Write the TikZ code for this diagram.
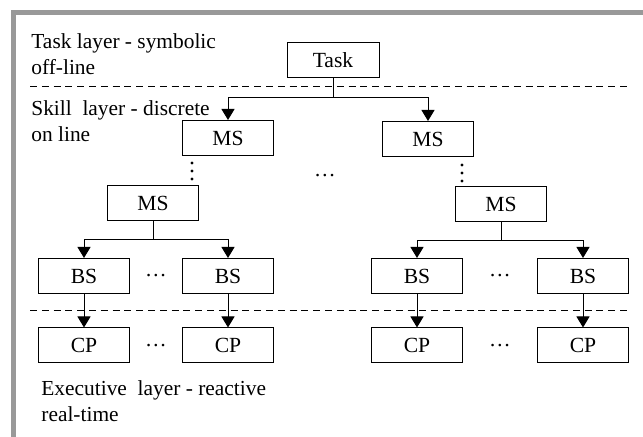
\documentclass[tikz,border=0pt]{standalone}
\usepackage{fontspec}
\setmainfont{Liberation Serif}
\usepackage{tikz}
\usetikzlibrary{arrows.meta,positioning}
\tikzset{
  skill/.style={
    draw,
    rectangle,
    minimum width=45.5pt,
    minimum height=17.5pt,
    inner sep=0pt,
    line width=0.5pt,
    font=\fontsize{10.8}{13}\selectfont,
  },
  link/.style={line width=0.5pt},
  arr/.style={line width=0.5pt, -{Triangle[length=5.5pt,width=6.5pt]}},
  layer/.style={dashed, line width=0.5pt, dash pattern=on 3.5pt off 2.4pt},
  lbl/.style={align=left, anchor=north west, inner sep=0pt,
    font=\fontsize{10.7}{13}\selectfont},
  gap/.style={inner sep=0pt, font=\fontsize{10.8}{13}\selectfont},
  dot/.style={fill, circle, inner sep=0pt, minimum size=1.6pt},
}

\begin{document}
\begin{tikzpicture}[x=0.5pt, y=-0.5pt]
  \useasboundingbox (0,0) rectangle (643,437);
  \draw[black!40, line width=2.5pt] (13.5,12.5) rectangle (645,460);

  % layers
  \draw[layer] (30,87) -- (628,87);
  \draw[layer] (30,311) -- (628,311);
  \node[lbl] (tasklbl) at (31,33) {Task layer - symbolic\\off-line};
  \node[lbl] (skilllbl) at (31,100) {Skill\ \ layer - discrete\\on line};
  \node[lbl] (execlbl) at (41,380) {Executive\ \ layer - reactive\\real-time};

  % task and main skills
  \node[skill, minimum width=46pt] (task) at (333,60.5) {Task};
  \node[skill] (ms1) at (228,138) {MS};
  \node[skill] (ms2) at (428,139) {MS};
  \node[skill] (ms3) at (153,203) {MS};
  \node[skill] (ms4) at (501,204.5) {MS};
  \coordinate (tb) at (333,98);
  \draw[link] (task) -- (tb);
  \draw[arr] (tb) -| (ms1);
  \draw[arr] (tb) -| (ms2);
  \foreach \y in {0,8,16} {
    \node[dot] (va\y) at (192,163+\y) {};
    \node[dot] (vb\y) at (462,165+\y) {};
  }
  \node[gap] (h0) at (325,176) {\dots};

  % basic skills and control primitives
  \foreach \n/\x in {1/84,2/228,3/417,4/583} {
    \node[skill] (bs\n) at (\x,276) {BS};
    \node[skill] (cp\n) at (\x,345.5) {CP};
    \draw[arr] (bs\n) -- (cp\n);
  }
  \coordinate (lb) at (153,240);
  \coordinate (rb) at (501,241);
  \draw[link] (ms3) -- (lb);
  \draw[link] (ms4) -- (rb);
  \draw[arr] (lb) -| (bs1);
  \draw[arr] (lb) -| (bs2);
  \draw[arr] (rb) -| (bs3);
  \draw[arr] (rb) -| (bs4);
  \node[gap] (hb1) at (156,276) {\dots};
  \node[gap] (hb2) at (500,276) {\dots};
  \node[gap] (hc1) at (156,345.5) {\dots};
  \node[gap] (hc2) at (500,345.5) {\dots};
\end{tikzpicture}
\end{document}
